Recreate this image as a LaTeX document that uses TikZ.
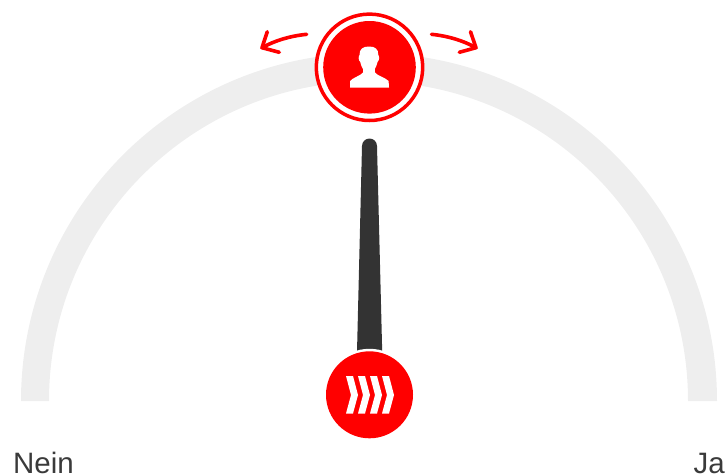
\documentclass[tikz,border=0pt]{standalone}
\usepackage{fontspec}
\setmainfont{Liberation Sans}
\definecolor{brandred}{HTML}{FF0000}
\definecolor{trackgrey}{HTML}{EEEEEE}
\definecolor{needlegrey}{HTML}{333333}
\definecolor{labelgrey}{HTML}{3A3A3A}
\tikzset{
  x=1pt,y=-1pt,
  swing/.style={draw=brandred,line width=3.6pt,line cap=round,line join=round},
  scale label/.style={anchor=base west,inner sep=0pt,text=labelgrey,font=\fontsize{29.5}{29.5}\selectfont},
  chevron/.style={fill=white,draw=none},
}
\begin{document}
\begin{tikzpicture}
\useasboundingbox (0,0) rectangle (726,475);
% track
\fill[trackgrey] (21,401) arc[start angle=180,end angle=0,x radius=348,y radius=-348]
  -- (688,401) arc[start angle=0,end angle=180,x radius=319.5,y radius=-319.5] -- cycle;
% needle
\fill[needlegrey] (362,146) arc[start angle=180,end angle=0,x radius=7.5,y radius=-7.5]
  -- (382.2,352) -- (357,352) -- cycle;
% hub
\fill[white] (369.5,394.8) circle[radius=46];
\fill[brandred] (369.5,394.8) circle[radius=43.5];
\foreach \d in {0,12,24,36}{
  \fill[chevron,xshift=\d pt] (346,376) -- (353,376) -- (358,395) -- (353,413.5)
    -- (346,413.5) -- (351,395) -- cycle;
}
% knob
\filldraw[fill=white,draw=brandred,line width=3.5pt] (369.5,67.3) circle[radius=53.2];
\fill[brandred] (369.5,67.3) circle[radius=46.3];
% person
\fill[white] (369,46.5)
  .. controls (375,46.5) and (378.5,49) .. (378.3,55)
  .. controls (379.5,56) and (379.5,60.5) .. (377.5,62)
  .. controls (376.8,65.5) and (375.5,67.5) .. (374.8,69)
  -- (375,72.5)
  .. controls (377,75.5) and (386,78) .. (388.6,81)
  -- (389,87.5) -- (350,87.5) -- (350.2,81)
  .. controls (352,78) and (361,75.5) .. (363,72.5)
  -- (363,69)
  .. controls (362,67.5) and (361,65.5) .. (360.3,62)
  .. controls (358.3,60.5) and (358.3,56) .. (359.5,55)
  .. controls (359.3,49) and (363,46.5) .. (369,46.5) -- cycle;
% arrows
\draw[swing] (306.7,34.3) .. controls (290,36) and (275,40.5) .. (262,47.7);
\draw[swing] (267.3,31.7) -- (262,47.7) -- (279.3,52.3);
\draw[swing] (431.5,34.3) .. controls (448,36) and (463,40.5) .. (476,47.7);
\draw[swing] (470.5,31.7) -- (476,47.7) -- (459.3,52.3);
% labels
\node[scale label] (nein) at (13,473.3) {Nein};
\node[scale label] (ja) at (693.5,473.3) {Ja};
\end{tikzpicture}
\end{document}
